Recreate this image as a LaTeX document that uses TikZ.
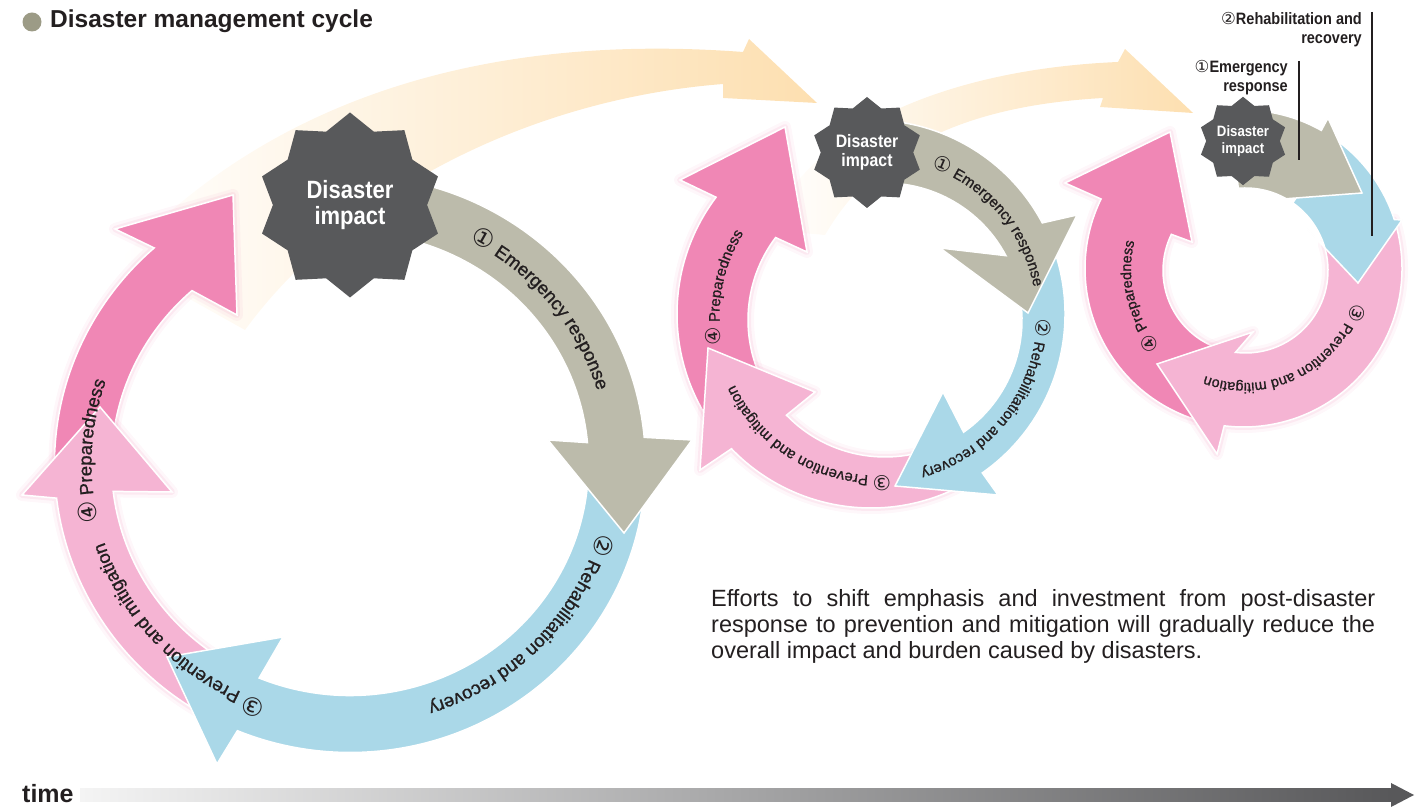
\documentclass[tikz,border=0pt]{standalone}
\usepackage{fontspec}
\setmainfont{Liberation Sans}
\newfontfamily\narrowfont[FakeStretch=0.88]{Liberation Sans}
\newfontfamily\arcfont[FakeBold=1]{Liberation Sans}
\newfontfamily\circledfont{DejaVu Sans}
\usepackage{xcolor}
\usetikzlibrary{shapes.geometric,decorations.text}

\definecolor{ringgray}{RGB}{188,187,171}
\definecolor{ringblue}{RGB}{170,216,232}
\definecolor{ringpink}{RGB}{245,180,211}
\definecolor{ringmagenta}{RGB}{240,135,181}
\definecolor{impactgray}{RGB}{88,89,91}
\definecolor{bandorange}{RGB}{253,223,176}
\definecolor{labeltext}{RGB}{35,31,32}
\definecolor{bulletgray}{RGB}{156,155,134}
\definecolor{timedark}{RGB}{88,88,90}
\definecolor{timelight}{RGB}{244,244,244}

\newcommand\bigarc{\fontsize{18.5}{20}\selectfont\arcfont}
\newcommand\midarc{\fontsize{15}{17}\selectfont\arcfont}
\newcommand\smallarc{\fontsize{14.5}{16}\selectfont\arcfont}
\newcommand\bignum{\fontsize{25}{20}\selectfont\circledfont}
\newcommand\midnum{\fontsize{20.5}{17}\selectfont\circledfont}
\newcommand\smallnum{\fontsize{20}{16}\selectfont\circledfont}

% style, outer centre, outer radius, inner centre, inner radius, from, to, head
\newcommand\cyclearrow[8]{%
  \path[#1] ([shift={(#2)}]#6:#3) arc (#6:#7:#3) -- #8 -- ([shift={(#4)}]#7:#5) arc (#7:#6:#5) -- cycle;}
% centre, radius, from, to, text
\newcommand\cyclelabel[5]{%
  \path[decorate, decoration={text along path, text align=center, text color=labeltext, text={#5}}]
    ([shift={(#1)}]#3:#2) arc (#3:#4:#2);}

\tikzset{
  ringedge/.style={draw=white, line width=1.5pt},
  pinkglow/.style={preaction={draw=ringmagenta, line width=12pt, line join=round, opacity=0.07},
                   preaction={draw=ringmagenta, line width=6pt, line join=round, opacity=0.12}},
  emergency/.style={ringedge, fill=ringgray},
  rehab/.style={ringedge, fill=ringblue},
  prevention/.style={ringedge, pinkglow, fill=ringpink},
  preparedness/.style={ringedge, pinkglow, fill=ringmagenta},
  impact/.style={star, star points=10, star point ratio=1.2, fill=impactgray, text=white,
                 inner sep=0pt, align=center},
  band/.style={left color=white, right color=bandorange},
  leader/.style={draw=labeltext, line width=1.2pt},
  note/.style={anchor=north east, inner sep=0pt, align=right, text=labeltext,
               font=\narrowfont\bfseries\fontsize{16.5}{19}\selectfont},
}

\begin{document}
\begin{tikzpicture}[x=1pt, y=1pt]
  \useasboundingbox (0,0) rectangle (1423,810);

  % faded arrows over the cycles
  \shade[band] (120,550) .. controls (250,690) and (450,780) .. (743,758) -- (749,771) -- (817,707)
    -- (723,712) -- (723,726) .. controls (520,710) and (340,610) .. (245,480) -- cycle;
  \shade[band] (770,580) .. controls (800,670) and (930,740) .. (1118,748) -- (1125,761) -- (1193,697)
    -- (1100,703) -- (1103,712) .. controls (980,705) and (880,670) .. (825,575) -- cycle;

  % large cycle
  \cyclearrow{preparedness}{350,346}{295.5 and 288.5}{350,346}{238.5 and 231.5}{180}{131.5}{(115,581) -- (233,615) -- (237,495)}
  \cyclearrow{prevention}{350,346}{295.5 and 288.5}{350,346}{238.5 and 231.5}{-120}{-173.2}{(22,315) -- (100,403) -- (172,318)}
  \cyclearrow{rehab}{350,346}{295.5 and 288.5}{350,346}{238.5 and 231.5}{3}{-112.4}{(217,46) -- (167,153) -- (283,173)}
  \cyclearrow{emergency}{350,346}{295.5 and 288.5}{350,346}{238.5 and 231.5}{95}{5.3}{(692,370) -- (624,277) -- (548,370)}
  \node[impact, minimum size=185pt, font=\narrowfont\bfseries\fontsize{25}{26}\selectfont] (impactA) at (350,605) {Disaster\\impact};

  % middle cycle
  \cyclearrow{preparedness}{871,496}{194}{885,490}{137}{212}{143}{(680,630) -- (785,683) -- (807,558)}
  \cyclearrow{prevention}{871,496}{194}{885,490}{137}{-62}{-136}{(700,340) -- (708,462) -- (815,418)}
  \cyclearrow{rehab}{871,496}{194}{885,490}{137}{20}{-55}{(998,315) -- (895,324) -- (943,418)}
  \cyclearrow{emergency}{871,496}{194}{885,490}{137}{100}{28}{(1077,595) -- (1028,497) -- (940,562)}
  \node[impact, minimum size=111pt, font=\narrowfont\bfseries\fontsize{18}{19.5}\selectfont] (impactB) at (867,657.5) {Disaster\\impact};

  % small cycle
  \cyclearrow{preparedness}{1243.5,541.5}{158.5}{1245.5,539.5}{82.5}{252}{154}{(1065,627) -- (1170,678) -- (1192,568)}
  \cyclearrow{prevention}{1243.5,541.5}{158.5}{1245.5,539.5}{82.5}{18}{-97}{(1217,356) -- (1157,446) -- (1253,478)}
  \cyclearrow{rehab}{1243.5,541.5}{158.5}{1245.5,539.5}{82.5}{55}{18}{(1402,590) -- (1358,527) -- (1307,581)}
  \cyclearrow{emergency}{1243.5,541.5}{158.5}{1245.5,539.5}{82.5}{95}{60.6}{(1328,692) -- (1362,617) -- (1283,611)}
  \node[impact, minimum size=84pt, font=\narrowfont\bfseries\fontsize{15}{16.5}\selectfont] (impactC) at (1243,669) {Disaster\\impact};

  % labels on the arcs
  \cyclelabel{350,346}{258.5 and 251.5}{79.5}{-0.5}{|\bignum|①|\bigarc| Emergency response}
  \cyclelabel{350,346}{258.5 and 251.5}{-4}{-84}{|\bignum|②|\bigarc| Rehabilitation and recovery}
  \cyclelabel{350,346}{258.5 and 251.5}{264.5}{184.5}{|\bignum|③|\bigarc| Prevention and mitigation}
  \cyclelabel{350,346}{258.5 and 251.5}{197}{157}{|\bignum|④|\bigarc| Preparedness}

  \cyclelabel{878,493}{158.5}{80.6}{0.6}{|\midnum|①|\midarc| Emergency response}
  \cyclelabel{878,493}{158.5}{2.5}{-77.5}{|\midnum|②|\midarc| Rehabilitation and recovery}
  \cyclelabel{878,493}{158.5}{280}{200}{|\midnum|③|\midarc| Prevention and mitigation}
  \cyclelabel{878,493}{158.5}{199}{139}{|\midnum|④|\midarc| Preparedness}

  \cyclelabel{1244.5,540.5}{113.5}{-3.5}{-123.5}{|\smallnum|③|\smallarc| Prevention and mitigation}
  \cyclelabel{1244.5,540.5}{113.5}{224}{164}{|\smallnum|④|\smallarc| Preparedness}

  % notes at the small cycle
  \node[note] (rehabnote) at (1362,798) {{\circledfont\mdseries②}Rehabilitation and\\recovery};
  \node[note] (emergnote) at (1288,750) {{\circledfont\mdseries①}Emergency\\response};
  \coordinate (rehabtop) at (1372,798);
  \coordinate (rehabend) at (1372,574);
  \coordinate (emergtop) at (1299,749);
  \coordinate (emergend) at (1299,650);
  \draw[leader] (rehabtop) -- (rehabend);
  \draw[leader] (emergtop) -- (emergend);

  % title
  \node[circle, fill=bulletgray, minimum size=19pt, inner sep=0pt] (bullet) at (32,788) {};
  \node[anchor=base west, inner sep=0pt, text=labeltext, font=\bfseries\fontsize{24.5}{26}\selectfont] (title) at (50,782) {Disaster management cycle};

  % explanation
  \node[anchor=north west, inner sep=0pt, text width=664pt, align=justify, text=labeltext, font=\fontsize{23.5}{26}\selectfont] (summary) at (711,221)
    {Efforts to shift emphasis and investment from post-disaster\linebreak response to prevention and mitigation will gradually reduce the\linebreak overall impact and burden caused by disasters.};

  % time axis
  \coordinate (timestart) at (80,14.5);
  \coordinate (timetip) at (1414,15);
  \shade[left color=timelight, right color=timedark] (timestart) ++(0,-6.5) rectangle (1392,21);
  \fill[timedark] (1391,27) -- (timetip) -- (1391,3) -- cycle;
  \node[anchor=base west, inner sep=0pt, text=labeltext, font=\bfseries\fontsize{25}{26}\selectfont] (timelabel) at (22,7) {time};
\end{tikzpicture}
\end{document}
